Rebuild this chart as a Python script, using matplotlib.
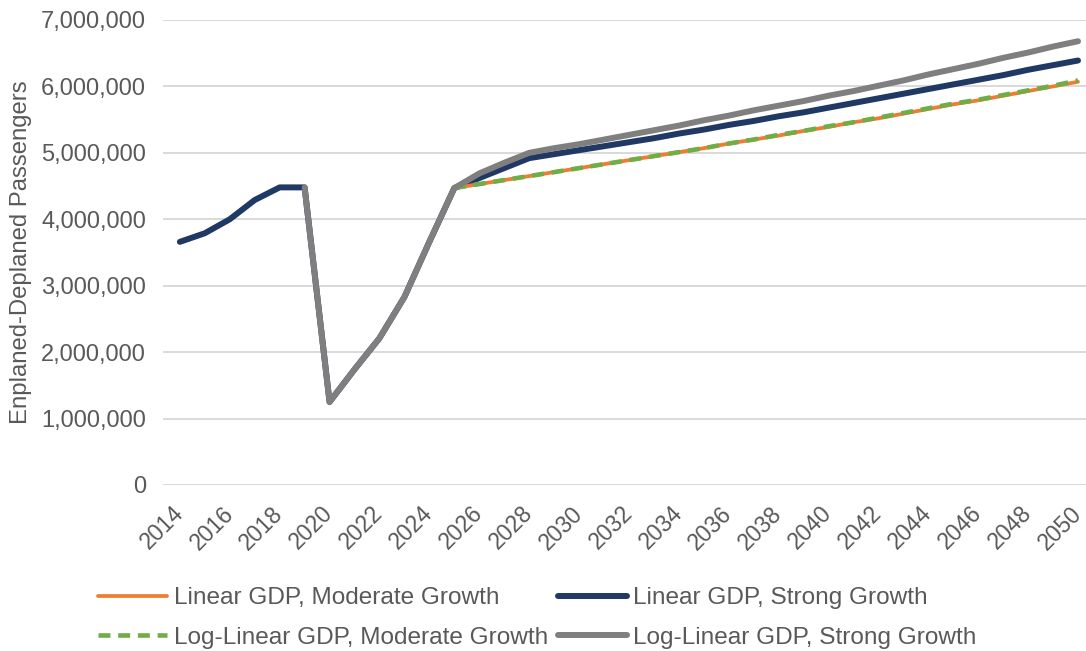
import numpy as np
import matplotlib.pyplot as plt
from matplotlib.ticker import FuncFormatter

plt.rcParams['font.family'] = ['Liberation Sans', 'DejaVu Sans']

# Historical enplaned-deplaned passengers (2014-2019)
hist_years = list(range(2014, 2020))
hist_pax = [3660000, 3790000, 4000000, 4290000, 4480000, 4480000]

# Recovery period shared by all scenarios (2019-2025)
recov_years = list(range(2019, 2026))
recov_pax = [4480000, 1250000, 1740000, 2210000, 2830000, 3660000, 4470000]

# Forecast scenarios (2025-2050)
fc_years = list(range(2025, 2051))
linear_moderate = [4470000, 4530000, 4590000, 4650000, 4710000, 4770000, 4830000,
                   4890000, 4950000, 5010000, 5070000, 5140000, 5200000, 5260000,
                   5330000, 5390000, 5460000, 5520000, 5590000, 5660000, 5730000,
                   5790000, 5860000, 5930000, 6000000, 6070000]
loglinear_moderate = [4470000, 4530000, 4590000, 4650000, 4710000, 4770000, 4830000,
                      4890000, 4950000, 5010000, 5070000, 5140000, 5200000, 5270000,
                      5330000, 5400000, 5460000, 5530000, 5600000, 5670000, 5740000,
                      5800000, 5870000, 5940000, 6010000, 6090000]
linear_strong = [4470000, 4620000, 4770000, 4920000, 4980000, 5040000, 5100000,
                 5160000, 5220000, 5290000, 5350000, 5420000, 5480000, 5550000,
                 5610000, 5680000, 5750000, 5820000, 5890000, 5960000, 6030000,
                 6100000, 6170000, 6250000, 6320000, 6390000]
loglinear_strong = [4470000, 4690000, 4850000, 5000000, 5070000, 5130000, 5200000,
                    5270000, 5340000, 5410000, 5490000, 5560000, 5640000, 5710000,
                    5780000, 5860000, 5930000, 6010000, 6090000, 6180000, 6260000,
                    6340000, 6430000, 6510000, 6600000, 6680000]

ORANGE = '#ed7d31'
NAVY = '#1f3864'
GREEN = '#70ad47'
GRAY = '#7f7f7f'
TEXT = '#595959'

fig = plt.figure(figsize=(10.86, 6.51), dpi=100)
ax = fig.add_axes([0.150, 0.255, 0.850, 0.7143])

# strong-growth linear series carries the full history
navy_years = hist_years + recov_years[1:] + fc_years[1:]
navy_vals = hist_pax + recov_pax[1:] + linear_strong[1:]
gray_years = recov_years + fc_years[1:]
gray_vals = recov_pax + loglinear_strong[1:]

l_orange, = ax.plot(fc_years, linear_moderate, color=ORANGE, lw=2.7,
                    solid_capstyle='round', zorder=3)
l_navy, = ax.plot(navy_years, navy_vals, color=NAVY, lw=4.3,
                  solid_capstyle='round', solid_joinstyle='round', zorder=2)
l_green, = ax.plot(fc_years, loglinear_moderate, color=GREEN, lw=3.3,
                   dashes=(2.6, 1.7), zorder=4)
l_gray, = ax.plot(gray_years, gray_vals, color=GRAY, lw=4.3,
                  solid_capstyle='round', solid_joinstyle='round', zorder=5)

ax.set_xlim(2013.32, 2050.32)
ax.set_ylim(0, 7000000)
ax.set_yticks(np.arange(0, 7000001, 1000000))
ax.yaxis.set_major_formatter(FuncFormatter(lambda v, p: f'{int(v):,}'))
ax.set_xticks(range(2014, 2051, 2))
ax.grid(axis='y', color='#d9d9d9', lw=1.4)
ax.set_axisbelow(True)
for s in ax.spines.values():
    s.set_visible(False)
ax.tick_params(axis='both', length=0, colors=TEXT)
ax.tick_params(axis='y', pad=12, labelsize=17)
ax.tick_params(axis='x', pad=18, labelsize=16.5)
for lbl in ax.get_xticklabels():
    lbl.set_rotation(45)
    lbl.set_ha('right')
    lbl.set_va('center')
    lbl.set_rotation_mode('anchor')

fig.text(0.019, 0.613, 'Enplaned-Deplaned Passengers', rotation=90,
         ha='center', va='center', color=TEXT, fontsize=17.2)

fig.legend([l_orange, l_green, l_navy, l_gray],
           ['Linear GDP, Moderate Growth', 'Log-Linear GDP, Moderate Growth',
            'Linear GDP, Strong Growth', 'Log-Linear GDP, Strong Growth'],
           ncol=2, loc='center left', bbox_to_anchor=(0.07, 0.051), frameon=False,
           fontsize=17.6, labelcolor=TEXT, handlelength=2.84, handletextpad=0.25,
           columnspacing=0.4, labelspacing=0.71)

fig.savefig('out.png', dpi=100)
